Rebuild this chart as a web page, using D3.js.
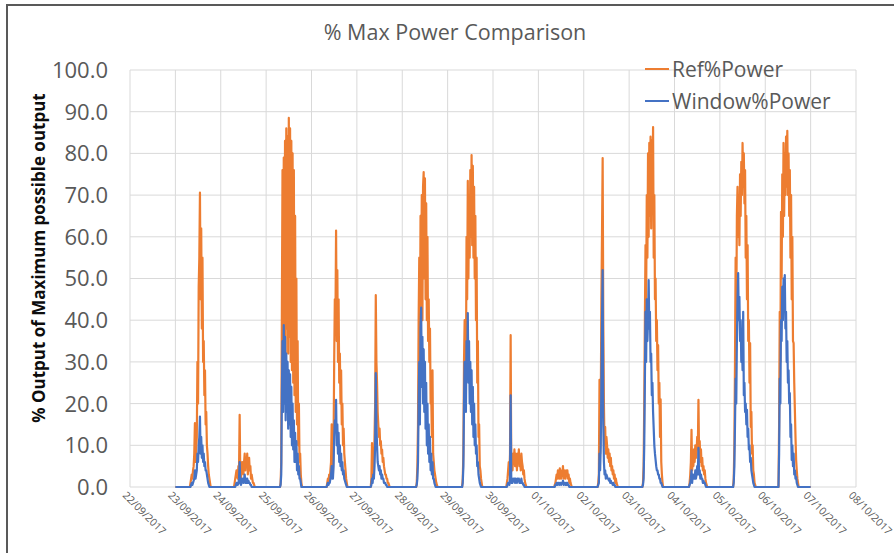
<!DOCTYPE html>
<meta charset="utf-8">
<style>
body { margin: 0; background: #fff; }
text { font-family: "Open Sans", sans-serif; fill: #595959; }
.grid line { stroke: #d9d9d9; stroke-width: 1; }
.xlab { font-size: 10.5px; }
.ylab { font-size: 22px; }
</style>
<svg width="895" height="553"></svg>
<script src="https://d3js.org/d3.v7.min.js"></script>
<script>

// one row per day, samples every 20 min from 07:00 to 19:00, night is 0
var days = ["23/09/2017", "24/09/2017", "25/09/2017", "26/09/2017", "27/09/2017", "28/09/2017", "29/09/2017",
            "30/09/2017", "01/10/2017", "02/10/2017", "03/10/2017", "04/10/2017", "05/10/2017", "06/10/2017"];
var tickDates = ["22/09/2017", "23/09/2017", "24/09/2017", "25/09/2017", "26/09/2017", "27/09/2017", "28/09/2017", "29/09/2017",
                 "30/09/2017", "01/10/2017", "02/10/2017", "03/10/2017", "04/10/2017", "05/10/2017", "06/10/2017", "07/10/2017", "08/10/2017"];
var yTicks = [0, 10, 20, 30, 40, 50, 60, 70, 80, 90, 100];
var firstHour = 7, stepMin = 20;

var refPower = [
  [0,0,0,1,2,3,2,4,5,8,15.3,6,9,12,30,20,48,55,70.6,45,62,38,55,30,35,22,28,15,18,10,8,5,3,2,1,0,0],
  [0,1,2,3,4,3,2,5,4,17.3,3,2,4,6,5,3,6,8,4,7,5,8,3,6,7,4,5,2,3,2,1,1,0.5,0,0,0,0],
  [0,0,1,6,42,76,28,79,35,83,30,86,38,84,32,88.5,36,86,30,83,28,80,25,76,22,65,18,50,15,35,10,20,6,8,3,1,0],
  [0,0,0,0,1,2,1,3,2,4,6,15,4,3,10,30,45,40,61.5,35,52,30,45,25,32,20,28,15,20,10,14,8,6,4,2,1,0],
  [0,0,2,10.5,3,8,5,12,20,46,30,25,18,15,12,14,10,11,8,9,6,7,5,4,3,3,2,2,1,1,0.5,0,0,0,0,0,0],
  [0,0,1,5,15,40,55,30,65,45,70,40,72,75.5,50,74,45,68,40,60,35,45,30,38,20,22,12,28,8,6,4,3,2,1,0.5,0,0],
  [0,0,0,2,8,30,40,35,25,60,45,73.4,50,70,55,76,60,79.6,58,77,55,72,50,65,40,55,25,35,12,15,5,4,2,1,0,0,0],
  [0,1,2,4,6,3,8,36.4,5,7,4,8,6,9,5,8,7,4,8,6,9,5,7,4,8,6,5,3,4,2,1,0.5,0,0,0,0,0],
  [0,0,0,0,0,0.5,1,2,3,2,4,3,2,4.5,3,2,4,3,5,2,4,3,2,4,3,4,2,3,1,2,1,0.5,0,0,0,0,0],
  [0,0,1,3,25.7,8,20,45,61,78.9,40,20,10,14.4,8,12,10,7,9,6,8,5,7,4,5,3,4,2,3,1,2,1,0.5,0,0,0,0],
  [0,1,5,20,40,58,45,70,55,80,60,82.5,65,84,62,83,70,86.3,55,70,45,50,35,40,28,34,20,25,12,21,6,3,1,0,0,0,0],
  [0,0,0,1,3,6,13.7,4,8,5,9,6,10,7,8,12,9,20.9,8,11,6,9,5,7,4,5,3,4,2,1,0.5,0,0,0,0,0,0],
  [0,2,10,30,55,40,65,72,60,70,58,75,65,78,70,82.5,72,80,68,76,55,65,45,58,35,40,25,34.5,14.4,18,8,10,4,3,1,0.5,0],
  [0,15,42,30,66,50,75,60,82.5,65,80,70,84,72,85.4,70,80,65,76,55,70,45,60,35,34.5,25,18.5,12,6.5,4,2,1,0,0,0,0,0]
];

var windowPower = [
  [0,0,0,0,0.5,1,0.5,1,1.5,2,4,2,3,4,8,6,10,12,16.9,8,12,7,10,6,8,5,6,4,4,3,2,1,0.5,0,0,0,0],
  [0,0,0,0.5,1,0.5,0.5,1,2,6,1,0.5,1,2,1.5,1,2,3,1,2,1,2,1,1.5,1,1,0.5,0.5,0,0,0,0,0,0,0,0,0],
  [0,0,0.5,3,22,35,18,38.8,20,36,16,32,18,30,14,28,15,27,12,24,10,20,9,16,6,13,6,11,4,8,3,5,2,2,1,0,0],
  [0,0,0,0,0.5,1,0.5,1,1,2,3,5,2,2,5,12,16,14,20.9,10,15,8,13,6,10,5,8,4,6,3,4,2,1.5,1,0.5,0,0],
  [0,0,0.5,2,1,3,2,5,10,27.3,15,10,6,5,4,5,3,4,2,3,2,2,1,1,1,0.5,0.5,0,0,0,0,0,0,0,0,0,0],
  [0,0,0.5,2,6,20,30,15,38,43,24,36,20,33,18,30,14,25,10,20,8,15,6,12,4,8,3,6,2,2,1,0.5,0,0,0,0,0],
  [0,0,0,1,5,20,30,22,18,35,28,41.7,25,35,20,30,18,28,15,24,12,20,10,15,8,10,5,6,3,2,1,0.5,0,0,0,0,0],
  [0,0,0.5,1,1,0.5,2,22,1,1.5,1,2,1.5,2,1,2,1.5,1,2,1.5,2,1,1.5,1,2,1,1,0.5,0.5,0,0,0,0,0,0,0,0],
  [0,0,0,0,0,0,0.5,0.5,1,0.5,1,1,0.5,1,1,0.5,1,1,1.5,0.5,1,1,0.5,1,0.5,1,0.5,0.5,0,0,0,0,0,0,0,0,0],
  [0,0,0.5,1,8,4,10,25,40,52,15,6,3,4,2,3,2.5,2,2,1.5,2,1,1.5,1,1,0.5,1,0.5,0.5,0,0,0,0,0,0,0,0],
  [0,0.5,2,10,25,42,30,45,35,40,49.6,38,42,30,32,22,25,18,14,10,8,6.5,5,4,4,3,3,2,2,1,1,0.5,0,0,0,0,0],
  [0,0,0,0.5,1,2,4,1,3,2,3,2,4,2,3,5,3,9.4,3,4,2,3,2,2,1,1.5,1,1,0.5,0,0,0,0,0,0,0,0],
  [0,1,5,15,26,20,35,45,51.3,40,45.6,35,40,30,34.5,28,42,22,25,18,20,15,18.5,12,14,9,10,6,7,4,3,2,1,0.5,0,0,0],
  [0,8,26,20,40,35,48,40,50,45,50.8,38,42,30,35,25,28,20,22.5,12,15,6.5,10,5,8,3,4,2,2.4,1,0.5,0,0,0,0,0,0]
];

var svg = d3.select("svg"),
    margin = {top: 70, left: 130, right: 39, bottom: 66},
    width = +svg.attr("width"),
    height = +svg.attr("height");

var parse = d3.timeParse("%d/%m/%Y");
var tickTimes = tickDates.map(parse);

var x = d3.scaleTime()
    .domain([tickTimes[0], tickTimes[tickTimes.length - 1]])
    .range([margin.left, width - margin.right]);
var y = d3.scaleLinear().domain([0, 100]).range([height - margin.bottom, margin.top]);

function series(rows) {
  var pts = [{t: parse(days[0]), v: 0}];
  rows.forEach(function(row, i) {
    var d0 = parse(days[i]);
    row.forEach(function(v, j) {
      pts.push({t: d3.timeMinute.offset(d0, firstHour * 60 + j * stepMin), v: v});
    });
  });
  pts.push({t: d3.timeDay.offset(parse(days[days.length - 1]), 1), v: 0});
  return pts;
}

// frame
svg.append("path")
    .attr("d", "M7,600V5H894")
    .attr("fill", "none").attr("stroke", "#595959").attr("stroke-width", 2);

// grid
svg.append("g").attr("class", "grid")
  .selectAll("line").data(yTicks).enter().append("line")
    .attr("x1", x.range()[0]).attr("x2", x.range()[1])
    .attr("y1", function(d) { return y(d); }).attr("y2", function(d) { return y(d); });
svg.append("g").attr("class", "grid")
  .selectAll("line").data(tickTimes).enter().append("line")
    .attr("x1", function(d) { return x(d); }).attr("x2", function(d) { return x(d); })
    .attr("y1", y(0)).attr("y2", y(100));

// y labels
svg.append("g").selectAll("text").data(yTicks).enter().append("text")
    .attr("class", "ylab")
    .attr("x", 108).attr("y", function(d) { return y(d); })
    .attr("dy", "0.36em")
    .attr("text-anchor", "end")
    .text(function(d) { return d.toFixed(1); });

// x labels
svg.append("g").selectAll("text").data(tickTimes).enter().append("text")
    .attr("class", "xlab")
    .attr("transform", function(d) { return "translate(" + (x(d) - 8) + "," + (y(0) + 9) + ") rotate(45)"; })
    .text(function(d, i) { return tickDates[i]; });

var line = d3.line()
    .x(function(d) { return x(d.t); })
    .y(function(d) { return y(d.v); });

svg.append("path").datum(series(refPower))
    .attr("d", line).attr("fill", "none")
    .attr("stroke", "#ED7D31").attr("stroke-width", 2.2).attr("stroke-linejoin", "round");
svg.append("path").datum(series(windowPower))
    .attr("d", line).attr("fill", "none")
    .attr("stroke", "#4472C4").attr("stroke-width", 2.2).attr("stroke-linejoin", "round");

// title
svg.append("text")
    .attr("x", 455).attr("y", 40)
    .attr("text-anchor", "middle")
    .style("font-size", "21.5px")
    .text("% Max Power Comparison");

// y title
svg.append("text")
    .attr("transform", "translate(45,258) rotate(-90)")
    .attr("text-anchor", "middle")
    .style("font-size", "17px").style("font-weight", "bold").style("fill", "#0d0d0d")
    .text("% Output of Maximum possible output");

// legend
var legend = [["Ref%Power", "#ED7D31"], ["Window%Power", "#4472C4"]];
var lg = svg.append("g").selectAll("g").data(legend).enter().append("g")
    .attr("transform", function(d, i) { return "translate(645," + (69 + i * 32) + ")"; });
lg.append("line").attr("x1", 0).attr("x2", 24).attr("stroke", function(d) { return d[1]; }).attr("stroke-width", 2);
lg.append("text").attr("x", 27).attr("dy", "0.36em").style("font-size", "21px")
    .text(function(d) { return d[0]; });

</script>
